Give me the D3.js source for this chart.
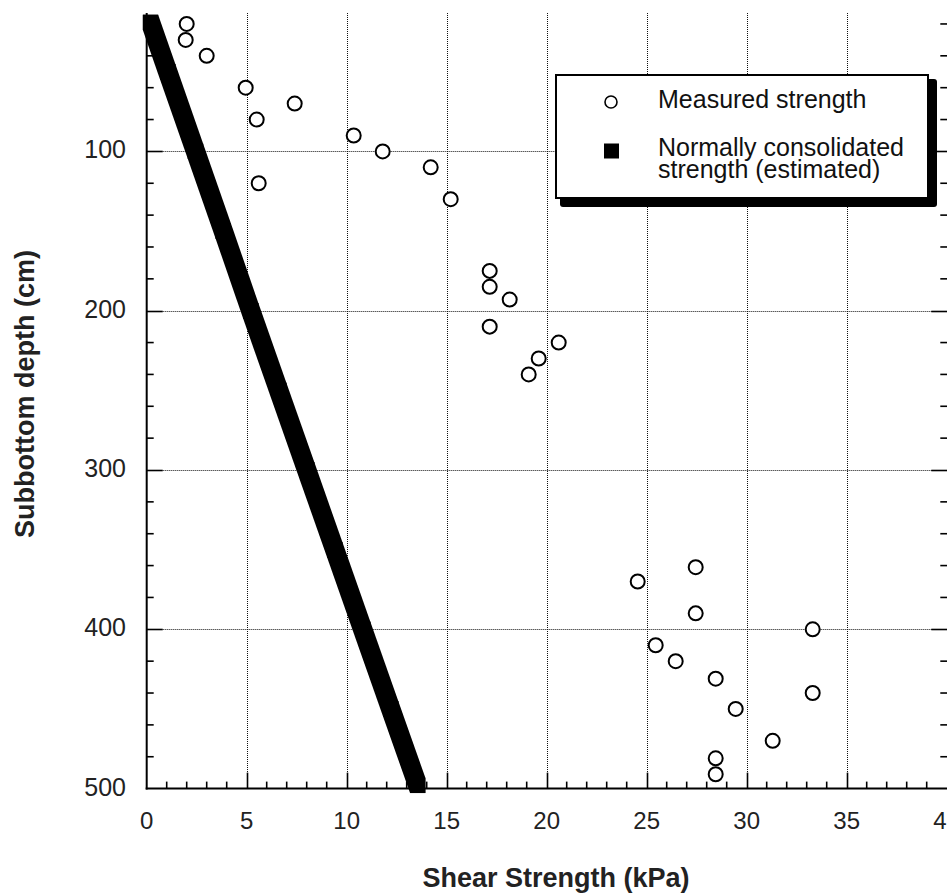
<!DOCTYPE html>
<html>
<head>
<meta charset="utf-8">
<script src="https://cdn.jsdelivr.net/npm/d3@7/dist/d3.min.js"></script>
<style>
  html, body { margin: 0; padding: 0; background: #fff; }
  svg { display: block; }
  text { font-family: "Liberation Sans", Arial, Helvetica, sans-serif; }
</style>
</head>
<body>
<svg id="chart" width="947" height="894"></svg>
<script>
// ---- Data ----
const measuredStrength = [2.0, 1.95, 3.0, 4.95, 7.4, 5.5, 5.6, 10.35, 11.8, 14.2, 15.2,
  17.15, 17.15, 18.15, 17.15, 20.6, 19.6, 19.1,
  24.55, 27.45, 27.45, 25.45, 26.45, 28.45, 29.45, 31.3, 28.45, 28.45, 33.3, 33.3];
const measuredDepth = [20, 30, 40, 60, 70, 80, 120, 90, 100, 110, 130,
  175, 185, 193, 210, 220, 230, 240,
  370, 361, 390, 410, 420, 431, 450, 470, 481, 491, 400, 440];

const estimatedDepth = [19, 50, 100, 150, 200, 250, 300, 350, 400, 450, 498];
const estimatedStrength = [0.19, 1.05, 2.44, 3.83, 5.2, 6.6, 8.0, 9.4, 10.8, 12.2, 13.55];

const xTickValues = [0, 5, 10, 15, 20, 25, 30, 35, 40];
const yTickValues = [100, 200, 300, 400, 500];
const legendLabels = ["Measured strength", "Normally consolidated", "strength (estimated)"];
const xTitle = "Shear Strength (kPa)";
const yTitle = "Subbottom depth (cm)";

// ---- Layout ----
const svg = d3.select("#chart");
const plotLeft = 146.7, plotRight = 946.7, plotTop = 13, plotBottom = 788.6;
const x = d3.scaleLinear().domain([0, 40]).range([plotLeft, plotRight]);
const y = d3.scaleLinear().domain([0, 500]).range([-7.9, plotBottom]);

// gridlines (dotted)
const grid = svg.append("g").attr("stroke", "#111").attr("stroke-width", 1)
  .attr("stroke-dasharray", "1,1");
grid.selectAll("line.v").data(d3.range(5, 40, 5)).join("line")
  .attr("x1", d => Math.round(x(d)) + 0.5).attr("x2", d => Math.round(x(d)) + 0.5)
  .attr("y1", plotTop).attr("y2", plotBottom);
grid.selectAll("line.h").data([100, 200, 300, 400]).join("line")
  .attr("y1", d => Math.round(y(d)) + 0.5).attr("y2", d => Math.round(y(d)) + 0.5)
  .attr("x1", plotLeft).attr("x2", plotRight);

// ticks (inward)
const ticks = svg.append("g").attr("stroke", "#000").attr("stroke-width", 1.6);
const xMinor = d3.range(1, 40).filter(v => v % 5 !== 0);
ticks.selectAll("line.xm").data(xMinor).join("line")
  .attr("x1", d => x(d)).attr("x2", d => x(d))
  .attr("y1", plotBottom).attr("y2", plotBottom - 7);
ticks.selectAll("line.xM").data(d3.range(5, 40, 5)).join("line")
  .attr("x1", d => Math.round(x(d)) + 0.5).attr("x2", d => Math.round(x(d)) + 0.5)
  .attr("y1", plotBottom).attr("y2", plotBottom - 16);
const yMinor = d3.range(20, 500, 20).filter(v => v % 100 !== 0);
[plotLeft, plotRight + 0.6].forEach((px, i) => {
  const dir = i === 0 ? 1 : -1;
  ticks.selectAll("line.ym" + i).data(yMinor).join("line")
    .attr("y1", d => y(d)).attr("y2", d => y(d))
    .attr("x1", px).attr("x2", px + dir * 7);
  ticks.selectAll("line.yM" + i).data([100, 200, 300, 400]).join("line")
    .attr("y1", d => Math.round(y(d)) + 0.5).attr("y2", d => Math.round(y(d)) + 0.5)
    .attr("x1", px).attr("x2", px + dir * 16);
});

// axis lines
svg.append("line").attr("x1", plotLeft).attr("x2", plotLeft)
  .attr("y1", plotTop).attr("y2", plotBottom + 1).attr("stroke", "#000").attr("stroke-width", 2);
svg.append("line").attr("x1", plotLeft - 1).attr("x2", plotRight + 1)
  .attr("y1", plotBottom).attr("y2", plotBottom).attr("stroke", "#000").attr("stroke-width", 2);

// tick labels
svg.append("g").selectAll("text").data(xTickValues).join("text")
  .attr("x", d => x(d)).attr("y", 828.5).attr("text-anchor", "middle")
  .attr("font-size", 24).attr("fill", "#222").text(d => d);
svg.append("g").selectAll("text").data(yTickValues).join("text")
  .attr("x", 126).attr("y", d => y(d) + 7).attr("text-anchor", "end")
  .attr("font-size", 25).attr("fill", "#222").text(d => d);

// axis titles
svg.append("text").attr("x", 556).attr("y", 887).attr("text-anchor", "middle")
  .attr("font-size", 27).attr("font-weight", "bold").attr("fill", "#222").text(xTitle);
svg.append("text").attr("transform", "translate(34,394) rotate(-90)")
  .attr("text-anchor", "middle").attr("font-size", 27).attr("font-weight", "bold")
  .attr("fill", "#222").text(yTitle);

// estimated strength: dense filled squares (swept along the readings)
const half = 7.65;
const est = estimatedDepth.map((d, i) => [x(estimatedStrength[i]), y(d)]);
const band = svg.append("g").attr("fill", "#000");
for (let i = 0; i < est.length - 1; i++) {
  const [x0, y0] = est[i], [x1, y1] = est[i + 1];
  const pts = [[x0 - half, y0 - half], [x0 + half, y0 - half], [x1 + half, y1 - half],
               [x1 + half, y1 + half], [x1 - half, y1 + half], [x0 - half, y0 + half]];
  band.append("path").attr("d", "M" + pts.map(p => p.join(",")).join("L") + "Z");
}
band.selectAll("rect").data(est).join("rect")
  .attr("x", d => d[0] - half).attr("y", d => d[1] - half)
  .attr("width", half * 2).attr("height", half * 2);

// measured strength circles
svg.append("g").selectAll("circle").data(measuredDepth).join("circle")
  .attr("cx", (d, i) => x(measuredStrength[i])).attr("cy", d => y(d))
  .attr("r", 7).attr("fill", "#fff").attr("stroke", "#000").attr("stroke-width", 2);

// legend
const lg = svg.append("g");
lg.append("rect").attr("x", 560).attr("y", 79).attr("width", 377).attr("height", 128)
  .attr("rx", 3).attr("fill", "#000");
lg.append("rect").attr("x", 556).attr("y", 75).attr("width", 372).attr("height", 123)
  .attr("fill", "#fff").attr("stroke", "#000").attr("stroke-width", 2);
lg.append("circle").attr("cx", 611).attr("cy", 102).attr("r", 6)
  .attr("fill", "#fff").attr("stroke", "#000").attr("stroke-width", 1.6);
lg.append("rect").attr("x", 604).attr("y", 143.5).attr("width", 15).attr("height", 15).attr("fill", "#000");
lg.selectAll("text").data(legendLabels).join("text")
  .attr("x", 658).attr("y", (d, i) => [107.5, 155.5, 178][i])
  .attr("font-size", 25).attr("fill", "#111").text(d => d);
</script>
</body>
</html>
